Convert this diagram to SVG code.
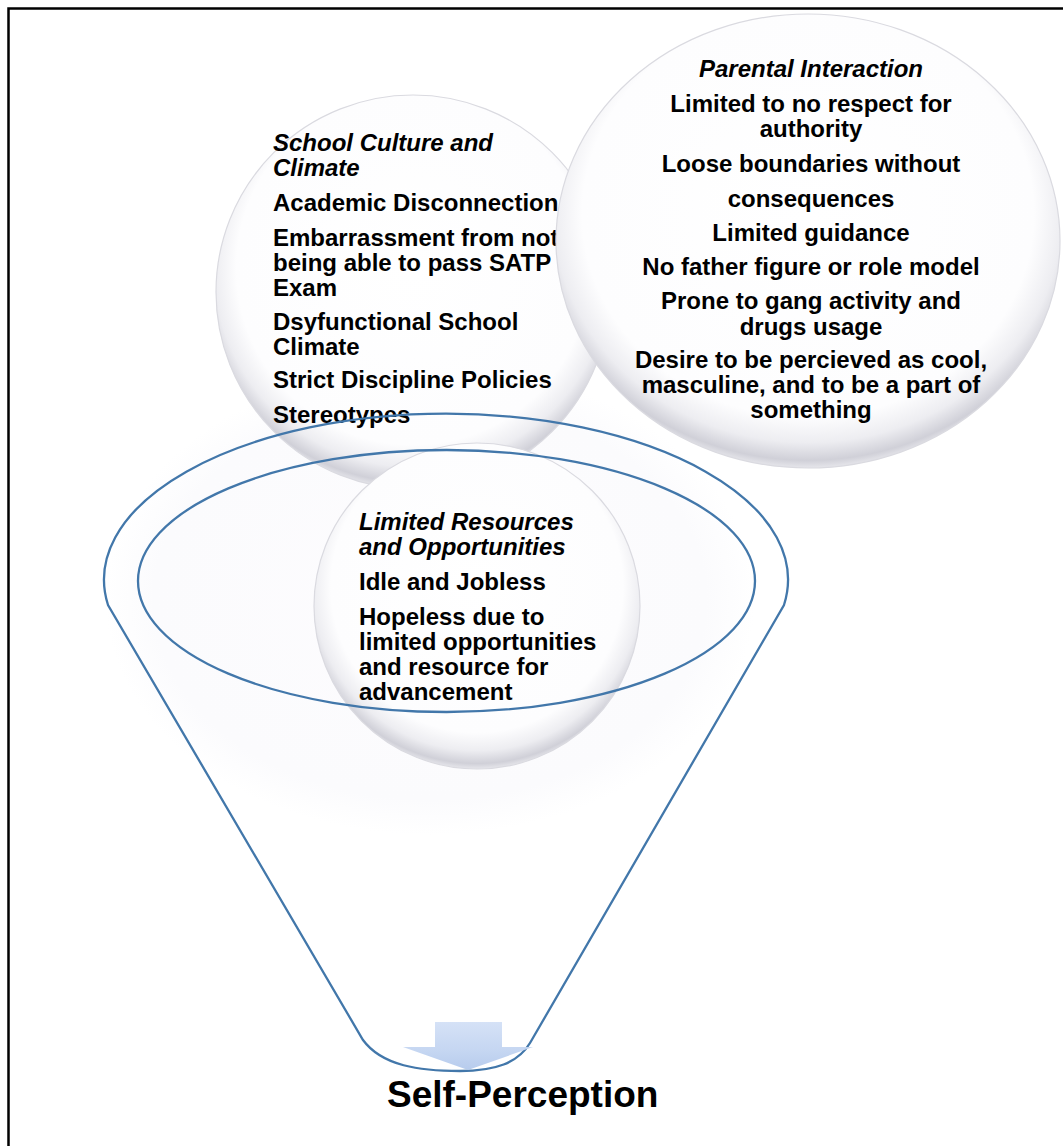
<svg xmlns="http://www.w3.org/2000/svg" width="1063" height="1146" viewBox="0 0 1063 1146">
<defs>
<style>
.t{font-family:"Liberation Sans",Arial,Helvetica,sans-serif;font-size:24px;font-weight:bold;fill:#000}
.ti{font-style:italic}
.m{text-anchor:middle}
.ball{fill:url(#glass);stroke:#dadae0;stroke-width:1.2}
.fun{fill:none;stroke:#4277aa;stroke-width:2.3}
</style>
<radialGradient id="glass" cx="0.5" cy="0.44" r="0.56">
<stop offset="0" stop-color="#ffffff"/>
<stop offset="0.8" stop-color="#fdfdfe"/>
<stop offset="0.9" stop-color="#ededf1"/>
<stop offset="0.97" stop-color="#d0d0d8"/>
<stop offset="1" stop-color="#e6e6eb"/>
</radialGradient>
<radialGradient id="ghost" cx="0.5" cy="0.5" r="0.5">
<stop offset="0" stop-color="#fdfcfe"/>
<stop offset="0.85" stop-color="#fbfbfd"/>
<stop offset="1" stop-color="#ffffff"/>
</radialGradient>
<linearGradient id="arrowFill" x1="0" y1="0" x2="0" y2="1">
<stop offset="0" stop-color="#d3e0f6"/>
<stop offset="0.6" stop-color="#c2d4f1"/>
<stop offset="1" stop-color="#b3c9ec"/>
</linearGradient>
</defs>
<rect width="1063" height="1146" fill="#fff"/>
<path d="M8.5,1146 V8.5 H1063" fill="none" stroke="#000" stroke-width="2.5"/>

<g id="ghost-circle">
<ellipse cx="430" cy="600" rx="325" ry="235" fill="url(#ghost)"/>
</g>

<g id="school-culture">
<circle class="ball" cx="413" cy="292" r="197"/>
<text class="t ti" x="273" y="151">School Culture and</text>
<text class="t ti" x="273" y="176">Climate</text>
<text class="t" x="273" y="211">Academic Disconnection</text>
<text class="t" x="273" y="246">Embarrassment from not</text>
<text class="t" x="273" y="271">being able to pass SATP</text>
<text class="t" x="273" y="296">Exam</text>
<text class="t" x="273" y="330">Dsyfunctional School</text>
<text class="t" x="273" y="355">Climate</text>
<text class="t" x="273" y="388">Strict Discipline Policies</text>
<text class="t" x="273" y="423">Stereotypes</text>
</g>

<g id="parental-interaction">
<ellipse class="ball" cx="808" cy="241" rx="252" ry="227"/>
<text class="t ti m" x="811" y="77">Parental Interaction</text>
<text class="t m" x="811" y="112">Limited to no respect for</text>
<text class="t m" x="811" y="137">authority</text>
<text class="t m" x="811" y="172">Loose boundaries without</text>
<text class="t m" x="811" y="207">consequences</text>
<text class="t m" x="811" y="241">Limited guidance</text>
<text class="t m" x="811" y="275">No father figure or role model</text>
<text class="t m" x="811" y="309">Prone to gang activity and</text>
<text class="t m" x="811" y="335">drugs usage</text>
<text class="t m" x="811" y="368">Desire to be percieved as cool,</text>
<text class="t m" x="811" y="393">masculine, and to be a part of</text>
<text class="t m" x="811" y="418">something</text>
</g>

<g id="limited-resources">
<circle class="ball" cx="477" cy="606" r="163"/>
<text class="t ti" x="359" y="530">Limited Resources</text>
<text class="t ti" x="359" y="555">and Opportunities</text>
<text class="t" x="359" y="590">Idle and Jobless</text>
<text class="t" x="359" y="625">Hopeless due to</text>
<text class="t" x="359" y="650">limited opportunities</text>
<text class="t" x="359" y="675">and resource for</text>
<text class="t" x="359" y="700">advancement</text>
</g>

<g id="connectors">
<g id="funnel">
<path class="fun" d="M108,605 A342,166 0 1 1 784,605 L530,1043 C518,1063 495,1071 460,1071 C420,1071 382,1066 363,1040 Z"/>
<ellipse class="fun" cx="446.5" cy="581" rx="308.5" ry="131"/>
</g>
<g id="arrow">
<path d="M435,1022 H502 V1047 H533 L468,1070 L403,1047 H435 Z" fill="url(#arrowFill)" opacity="0.95"/>
</g>
</g>

<g id="self-perception">
<text class="t" x="387" y="1107" style="font-size:37px">Self-Perception</text>
</g>
</svg>
